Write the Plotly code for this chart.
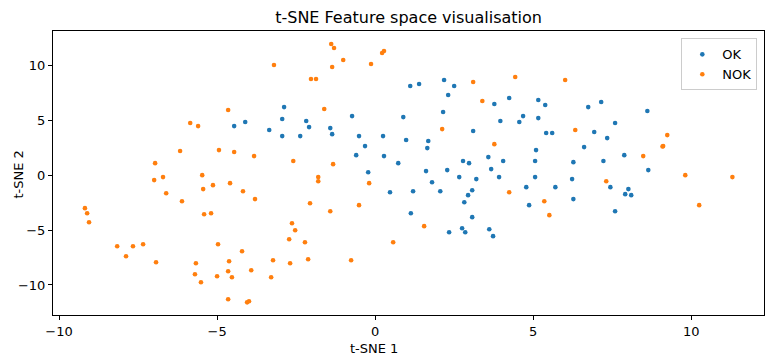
import plotly.graph_objects as go

ok_x = [-4.46, -4.11, -2.88, -2.94, -3.35, -2.18, -2.09, -0.73, 0.89, -1.42,
        -1.36, -2.94, -2.37, -0.51, 0.25, 0.98, -0.32, -0.60, 0.28, 0.73,
        -0.22, 1.11, 1.39, 2.18, 2.50, 2.31, 3.77, 4.24, 5.16, 5.38,
        6.74, 2.15, 3.96, 4.68, 4.56, 5.16, 3.10, 5.41, 5.60, 6.93,
        1.68, 1.65, 5.09, 6.61, 3.58, 2.78, 2.97, 4.05, 5.06, 6.27,
        1.61, 2.28, 3.67, 2.66, 3.20, 3.92, 5.06, 6.23, 1.80, 1.20,
        2.06, 3.07, 2.94, 2.82, 1.13, 3.07, 2.34, 2.75, 2.85, 3.61,
        3.73, 4.78, 5.70, 4.87, 6.27, 7.15, 8.61, 7.59, 7.34, 7.88,
        7.22, 8.64, 7.44, 8.01, 7.91, 8.10, 7.59, 0.47]
ok_y = [4.45, 4.82, 6.18, 5.09, 4.09, 4.91, 4.36, 5.36, 5.27, 4.27,
        3.72, 3.54, 3.54, 3.54, 3.54, 3.18, 2.63, 1.81, 1.72, 1.08,
        0.26, 8.10, 8.28, 8.64, 8.10, 7.28, 6.46, 7.00, 6.82, 6.37,
        6.18, 5.73, 4.91, 5.36, 4.82, 5.18, 4.00, 3.82, 3.82, 3.91,
        3.09, 2.45, 2.27, 2.54, 1.63, 1.27, 1.08, 1.27, 1.27, 1.17,
        0.36, 0.45, 0.54, -0.19, -0.37, -0.19, -0.19, -0.37, -0.65, -1.47,
        -1.47, -1.38, -1.83, -2.47, -3.47, -3.83, -5.20, -4.84, -5.20, -4.93,
        -5.56, -1.10, -1.10, -2.74, -2.19, 6.64, 5.82, 4.73, 3.36, 1.81,
        1.27, 0.45, -1.10, -1.28, -1.74, -1.83, -3.29, -1.56]

nok_x = [-4.65, -5.85, -5.60, -6.17, -4.94, -4.46, -6.96, -6.71, -5.47, -6.99,
         -5.44, -5.13, -4.59, -6.61, -6.11, -9.18, -9.11, -9.05, -5.41, -5.19,
         -8.16, -7.66, -7.34, -7.88, -6.93, -4.97, -5.67, -4.62, -5.70, -5.00,
         -4.65, -4.53, -5.51, -4.65, -4.18, -3.80, -1.80, -1.80, -0.19, -2.06,
         -1.42, -0.51, -2.63, -2.53, -2.72, -2.22, 0.57, -4.21, -3.23, -2.69,
         -2.12, -0.76, -3.92, -3.29, -4.05, -3.99, -1.39, -1.30, 0.22, 0.28,
         -3.20, -1.01, -0.13, -1.36, -2.03, -1.87, -1.61, -3.83, -2.59, -1.33,
         3.10, 4.43, 6.01, 3.39, 2.12, 6.33, 3.77, 1.55, 4.24, 5.35,
         5.51, 9.24, 9.11, 9.09, 8.48, 9.81, 11.30, 7.31, 10.25]
nok_y = [5.91, 4.73, 4.45, 2.18, 2.27, 2.09, 1.08, -0.19, -0.01, -0.46,
         -1.28, -0.92, -0.74, -1.65, -2.38, -3.01, -3.47, -4.29, -3.56, -3.47,
         -6.48, -6.48, -6.29, -7.39, -7.93, -6.29, -8.02, -7.84, -9.03, -9.21,
         -8.75, -9.30, -9.75, -11.30, -1.47, -2.19, -0.19, -0.56, -0.74, -2.56,
         -3.29, -2.74, -4.38, -5.02, -5.84, -6.11, -6.11, -6.93, -7.75, -8.02,
         -7.66, -7.75, -8.66, -9.30, -11.58, -11.48, 11.92, 11.56, 11.10, 11.28,
         10.01, 10.46, 10.10, 9.83, 8.73, 8.73, 6.00, 1.72, 1.27, 0.99,
         8.46, 8.92, 8.64, 6.73, 4.18, 4.09, 2.81, -4.65, -1.56, -2.38,
         -3.65, 3.63, 2.63, 2.60, 1.72, -0.01, -0.19, -0.56, -2.74]

tick_vals = [-10, -5, 0, 5, 10]
tick_text = ["\u221210", "\u22125", "0", "5", "10"]

fig = go.Figure()
fig.add_trace(go.Scatter(x=ok_x, y=ok_y, mode="markers", name="OK",
                         marker=dict(color="#1f77b4", size=4.6, line=dict(width=0))))
fig.add_trace(go.Scatter(x=nok_x, y=nok_y, mode="markers", name="NOK",
                         marker=dict(color="#ff7f0e", size=4.6, line=dict(width=0))))

axis_common = dict(showgrid=False, zeroline=False, showline=True, linecolor="black",
                   linewidth=1, mirror=True, ticks="outside", ticklen=4,
                   tickcolor="black", tickfont=dict(size=13, color="black"),
                   automargin=False)

fig.update_layout(
    width=779, height=362,
    margin=dict(l=53, r=15, t=31, b=47),
    paper_bgcolor="white", plot_bgcolor="white",
    font=dict(family="DejaVu Sans", color="black"),
    title=dict(text="t-SNE Feature space visualisation", x=0.5245, xanchor="center",
               y=0.953, yanchor="middle", font=dict(size=16)),
    xaxis=dict(range=[-10.19, 12.30], tickvals=tick_vals, ticktext=tick_text,
               **axis_common),
    yaxis=dict(range=[-12.73, 13.1], tickvals=tick_vals, ticktext=tick_text,
               **axis_common),
    annotations=[
        dict(text="t-SNE 1", xref="paper", yref="paper", x=0.4513, y=-0.1163,
             xanchor="center", yanchor="middle", showarrow=False,
             font=dict(size=13, color="black")),
        dict(text="t-SNE 2", xref="paper", yref="paper", x=-0.0483, y=0.4935,
             xanchor="center", yanchor="middle", textangle=-90,
             showarrow=False, font=dict(size=13, color="black")),
    ],
    legend=dict(x=0.9906, y=0.974, xanchor="right", yanchor="top",
                bordercolor="#cccccc", borderwidth=1, bgcolor="rgba(255,255,255,0.8)",
                font=dict(size=13), itemwidth=30, tracegroupgap=0),
    showlegend=True,
)

fig.write_html("out.html", config={"displayModeBar": False},
               post_script="document.body.style.margin='0px';")
